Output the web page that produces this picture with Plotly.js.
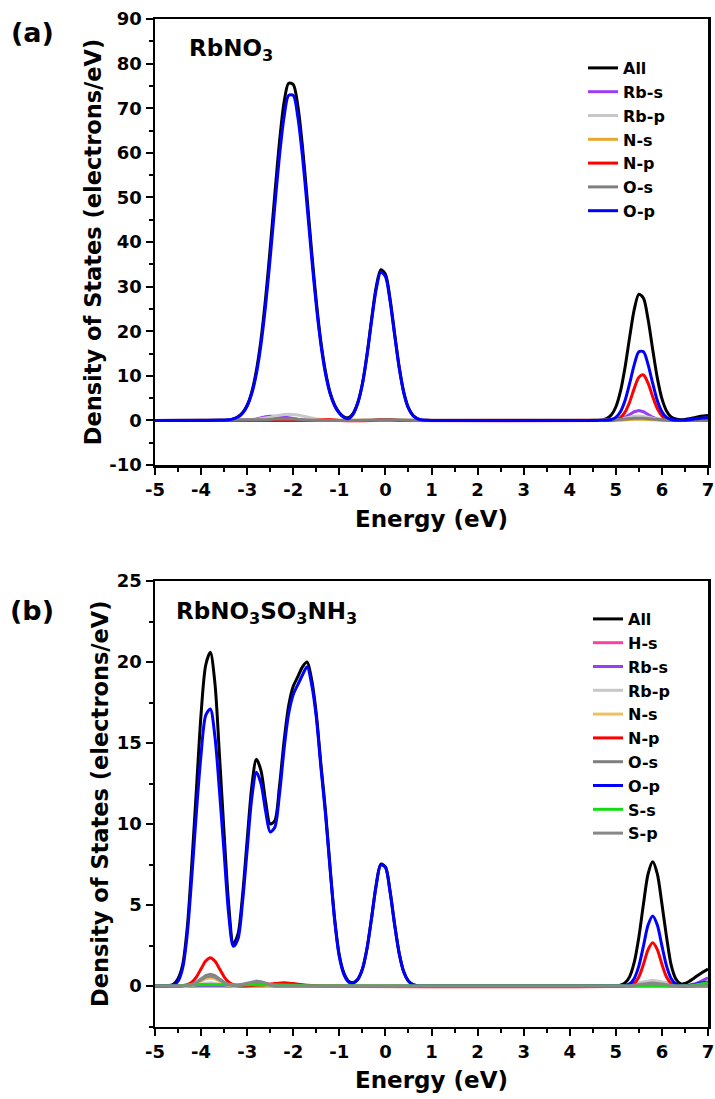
<!DOCTYPE html>
<html>
<head>
<meta charset="utf-8">
<script src="https://cdn.plot.ly/plotly-3.0.1.min.js"></script>
<style>html,body{margin:0;padding:0;background:#fff;}</style>
</head>
<body>
<div id="chart" style="width:715px;height:1099px;"></div>
<script>
// ---------- Panel (a): RbNO3 ----------
const energyA = [-5,-4,-3.6,-3.5,-3.4,-3.3,-3.2,-3.1,-3.0,-2.9,-2.8,-2.7,-2.6,-2.5,-2.4,-2.3,-2.2,-2.1,-2.0,-1.9,-1.8,-1.7,-1.6,-1.5,-1.4,-1.3,-1.2,-1.1,-1.0,-0.9,-0.8,-0.7,-0.6,-0.5,-0.4,-0.3,-0.2,-0.1,0.0,0.1,0.2,0.3,0.4,0.5,0.6,0.7,0.8,0.9,1.0,2,3,4,4.4,4.5,4.6,4.7,4.8,4.9,5.0,5.1,5.2,5.3,5.4,5.5,5.6,5.7,5.8,5.9,6.0,6.1,6.2,6.3,6.4,6.5,6.6,6.7,6.8,6.9,7.0];
const allA = [0,0,
  0.02,0.05,0.14,0.34,0.8,1.7,3.4,6.4,11.2,18.1,
  27.4,38.6,50.7,62.3,71.3,75.6,75.3,70.5,61.4,49.9,
  37.8,26.7,17.6,10.9,6.2,3.4,1.75,0.8,0.6,1.6,
  3.95,8.2,14.75,22.7,29.9,33.8,32.8,27.3,19.45,11.9,
  6.25,2.8,1.1,0.37,0.1,0.03,0,
  0,0,0,
  0,0.01,0.03,0.12,0.4,1.19,3.01,6.49,11.93,18.67,
  24.9,28.3,27.4,22.6,15.9,9.53,4.87,2.12,0.79,0.3,
  0.15,0.2,0.35,0.6,0.85,1.0,1.1];
const opA = [0,0,
  0.02,0.05,0.13,0.33,0.75,1.62,3.23,6.02,10.48,17.02,
  25.79,36.46,48.09,59.2,67.99,72.87,72.87,67.99,59.2,48.09,
  36.46,25.79,17.02,10.48,6.02,3.23,1.62,0.65,0.4,1.4,
  3.9,8.1,14.5,22.3,29.41,33.27,32.26,26.83,19.13,11.69,
  6.13,2.75,1.06,0.35,0.1,0.02,0,
  0,0,0,
  0,0,0,0.02,0.05,0.2,0.69,1.95,4.46,8.28,
  12.52,15.4,15.4,12.52,8.28,4.46,1.95,0.69,0.2,0.05,
  0.02,0.05,0.15,0.3,0.45,0.55,0.6];
const rbsA_E = [-5,-3.1,-3.0,-2.9,-2.8,-2.7,-2.6,-2.5,-2.4,-2.3,-2.2,-2.1,-2.0,-1.9,-1.8,-1.7,-1.6,4.8,4.9,5.0,5.1,5.2,5.3,5.4,5.5,5.6,5.7,5.8,5.9,6.0,6.1,6.2,6.5,6.6,6.7,6.8,6.9,7.0];
const rbsA   = [0,0,0.05,0.15,0.3,0.6,0.85,0.95,0.95,0.85,0.75,0.65,0.45,0.25,0.1,0.03,0,0,0.03,0.09,0.3,0.71,1.33,1.94,2.2,1.94,1.33,0.71,0.3,0.09,0.02,0,0,0.05,0.2,0.4,0.5,0.55];
const rbpA_E = [-5,-3.2,-3.1,-3.0,-2.9,-2.8,-2.7,-2.6,-2.5,-2.4,-2.3,-2.2,-2.1,-2.0,-1.9,-1.8,-1.7,-1.6,-1.5,-1.4,-1.3,-1.2,-1.1,-1.0,-0.5,0.0,0.5,1.0,4.8,4.9,5.0,5.1,5.2,5.3,5.4,5.5,5.6,5.7,5.8,5.9,6.0,6.1,6.2,6.3,7.0];
const rbpA   = [0,0,0.02,0.05,0.1,0.19,0.32,0.5,0.73,0.97,1.19,1.34,1.4,1.34,1.19,0.97,0.73,0.5,0.32,0.19,0.1,0.05,0.02,0.02,0.12,0.15,0.08,0,0.05,0.1,0.14,0.28,0.49,0.73,0.92,1.0,0.92,0.73,0.49,0.28,0.14,0.06,0.02,0,0];
const nsA_E = [-5,-1.8,-1.6,-1.4,-1.2,-0.3,-0.1,0.1,0.3,4.9,5.1,5.3,5.5,5.7,5.9,6.1,7];
const nsA   = [0,0,0.1,0.12,0,0,0.12,0.1,0,0,0.05,0.2,0.3,0.2,0.05,0,0];
const npA_E = [-5,-1.6,-1.4,-1.2,-1.0,-0.3,-0.1,0.1,0.3,4.8,4.9,5.0,5.1,5.2,5.3,5.4,5.5,5.6,5.7,5.8,5.9,6.0,6.1,6.2,6.3,6.5,6.6,6.7,6.8,6.9,7.0];
const npA   = [0,0,0.1,0.12,0,0,0.12,0.12,0,0,0.04,0.18,0.65,1.86,4.14,7.18,9.69,10.19,8.34,5.32,2.64,1.02,0.31,0.07,0,0,0.05,0.15,0.25,0.3,0.3];
const osA_E = [-5,-3.0,-2.8,-2.6,-2.4,-2.2,-2.0,-1.8,-1.6,-1.4,-0.6,-0.3,0,0.3,0.6,4.8,5.0,5.2,5.4,5.6,5.8,6.0,6.2,7];
const osA   = [0,0,0.05,0.15,0.3,0.38,0.3,0.15,0.05,0,0,0.1,0.15,0.1,0,0,0.08,0.3,0.5,0.5,0.3,0.08,0,0];

// ---------- Panel (b): RbNO3SO3NH3 ----------
const energyB = [-5,
  -4.8,-4.7,-4.6,-4.5,-4.4,-4.3,-4.2,-4.1,-4.0,-3.9,
  -3.8,-3.7,-3.6,-3.5,-3.4,-3.3,-3.2,-3.1,-3.0,-2.9,
  -2.8,-2.7,-2.6,-2.5,-2.4,-2.3,-2.2,-2.1,-2.0,-1.9,
  -1.8,-1.7,-1.6,-1.5,-1.4,-1.3,-1.2,-1.1,-1.0,-0.9,
  -0.8,-0.7,-0.6,-0.5,-0.4,-0.3,-0.2,-0.1,0.0,0.1,
  0.2,0.3,0.4,0.5,0.6,0.7,0.8,0.9,1.0,
  2,3,4,4.5,
  5.0,5.1,5.2,5.3,5.4,5.5,5.6,5.7,5.8,5.9,
  6.0,6.1,6.2,6.3,6.4,6.5,6.6,6.7,6.8,6.9,7.0];
const allB = [0,
  0,0.03,0.1,0.45,1.3,3.6,7.6,12.2,16.8,19.8,
  20.6,18.7,14.2,9.4,5.0,2.6,3.2,5.6,9.0,12.3,
  14.0,13.3,11.4,10.0,10.2,12.3,15.1,17.3,18.5,19.1,
  19.7,20.0,18.9,16.8,13.7,10.8,7.3,4.1,1.9,0.8,
  0.3,0.2,0.42,1.05,2.32,4.22,6.25,7.52,7.36,5.86,
  3.8,2.0,0.86,0.3,0.08,0.02,0,0,0,
  0,0,0,0,
  0,0.05,0.19,0.58,1.47,3.03,5.07,6.92,7.67,6.92,
  5.07,3.03,1.3,0.45,0.15,0.15,0.3,0.5,0.7,0.88,1.05];
const opB = [0,
  0,0.01,0.05,0.3,1.1,3.2,6.8,10.8,14.3,16.7,
  17.1,15.4,12.0,8.2,4.4,2.45,2.9,5.2,8.4,11.6,
  13.2,12.5,10.8,9.5,9.8,11.8,14.6,16.8,18.0,18.6,
  19.2,19.7,18.6,16.6,13.5,10.6,7.2,4.0,1.8,0.7,
  0.25,0.18,0.4,1.03,2.3,4.19,6.21,7.48,7.32,5.83,
  3.78,1.99,0.85,0.3,0.08,0.02,0,0,0,
  0,0,0,0,
  0,0,0.03,0.14,0.47,1.24,2.48,3.76,4.32,3.76,
  2.48,1.24,0.47,0.14,0.03,0,0.03,0.08,0.15,0.2,0.25];
const hsB_E = [-5,-4.2,-3.8,-3.4,7];
const hsB   = [0,0,0.08,0,0];
const rbsB_E = [-5,5.4,5.8,6.2,6.5,6.6,6.7,6.8,6.9,7.0];
const rbsB   = [0,0,0.1,0,0,0.05,0.12,0.22,0.35,0.5];
const rbpB_E = [-5,-4.3,-3.8,-3.3,-3.0,-2.8,-2.6,5.2,5.5,5.8,6.1,6.4,7];
const rbpB   = [0,0,0.2,0,0,0.1,0,0,0.2,0.35,0.2,0,0];
const nsB_E = [-5,-4.3,-4.2,-4.1,-4.0,-3.9,-3.8,-3.7,-3.6,-3.5,-3.4,-3.3,7];
const nsB   = [0,0,0.05,0.15,0.3,0.45,0.5,0.45,0.3,0.15,0.05,0,0];
const npB_E = [-5,-4.5,-4.4,-4.3,-4.2,-4.1,-4.0,-3.9,-3.8,-3.7,-3.6,-3.5,-3.4,-3.3,-3.2,-3.1,-2.8,-2.6,-2.4,-2.2,-2.0,-1.8,-1.6,-1.4,5.2,5.3,5.4,5.5,5.6,5.7,5.8,5.9,6.0,6.1,6.2,6.3,6.4,6.6,6.8,7.0];
const npB   = [0,0,0.02,0.08,0.24,0.57,1.06,1.54,1.75,1.54,1.06,0.57,0.24,0.08,0.02,0,0.05,0.08,0.15,0.2,0.15,0.08,0.03,0,0,0.04,0.17,0.56,1.34,2.25,2.67,2.25,1.34,0.56,0.17,0.04,0,0,0.05,0.1];
const osB_E = [-5,-4.4,-4.3,-4.2,-4.1,-4.0,-3.9,-3.8,-3.7,-3.6,-3.5,-3.4,-3.3,-3.2,-3.0,-2.8,-2.6,-2.4,5.4,5.8,6.2,7];
const osB   = [0,0,0.03,0.1,0.23,0.44,0.64,0.72,0.64,0.44,0.23,0.1,0.03,0,0.1,0.2,0.1,0,0,0.12,0,0];
const ssB_E = [-5,-4.5,-4.3,-4.0,-3.5,-3.0,-2.5,-2.0,-1.6,6.6,6.8,7.0];
const ssB   = [0,0,0.06,0.1,0.08,0.1,0.08,0.05,0,0,0.1,0.2];
const spB_E = [-5,-4.4,-4.3,-4.2,-4.1,-4.0,-3.9,-3.8,-3.7,-3.6,-3.5,-3.4,-3.3,-3.2,-3.1,-3.0,-2.9,-2.8,-2.7,-2.6,-2.5,-2.4,5.3,5.6,5.8,6.0,6.3,7];
const spB   = [0,0,0.03,0.08,0.2,0.38,0.55,0.62,0.55,0.38,0.2,0.08,0.03,0.05,0.12,0.2,0.27,0.3,0.27,0.2,0.1,0,0,0.12,0.18,0.12,0,0];

// ---------- tick labels ----------
const xTickVals = [-5,-4,-3,-2,-1,0,1,2,3,4,5,6,7];
const xTickText = ['-5','-4','-3','-2','-1','0','1','2','3','4','5','6','7'];
const yTickValsA = [-10,0,10,20,30,40,50,60,70,80,90];
const yTickTextA = ['-10','0','10','20','30','40','50','60','70','80','90'];
const yTickValsB = [0,5,10,15,20,25];
const yTickTextB = ['0','5','10','15','20','25'];

const FONT = 'DejaVu Sans, Liberation Sans, Arial, sans-serif';
const W = 715, H = 1099;

function tr(x, y, name, color, xa, ya, leg, smooth) {
  return {x: x, y: y, name: name, type: 'scatter', mode: 'lines',
    line: smooth ? {color: color, width: 3, shape: 'spline', smoothing: 0.8}
                 : {color: color, width: 3, shape: 'linear'},
    xaxis: xa, yaxis: ya, legend: leg, hoverinfo: 'skip'};
}

const data = [
  tr(energyA, allA, 'All', '#000000', 'x', 'y', 'legend', true),
  tr(rbsA_E, rbsA, 'Rb-s', '#9B3DF5', 'x', 'y', 'legend', false),
  tr(rbpA_E, rbpA, 'Rb-p', '#C8C8C8', 'x', 'y', 'legend', false),
  tr(nsA_E, nsA, 'N-s', '#E8A830', 'x', 'y', 'legend', false),
  tr(npA_E, npA, 'N-p', '#FF0000', 'x', 'y', 'legend', true),
  tr(osA_E, osA, 'O-s', '#7F7F7F', 'x', 'y', 'legend', false),
  tr(energyA, opA, 'O-p', '#0000FF', 'x', 'y', 'legend', true),

  tr(energyB, allB, 'All', '#000000', 'x2', 'y2', 'legend2', true),
  tr(hsB_E, hsB, 'H-s', '#FF3FA0', 'x2', 'y2', 'legend2', false),
  tr(rbsB_E, rbsB, 'Rb-s', '#9B3DF5', 'x2', 'y2', 'legend2', false),
  tr(rbpB_E, rbpB, 'Rb-p', '#C8C8C8', 'x2', 'y2', 'legend2', false),
  tr(nsB_E, nsB, 'N-s', '#F0C060', 'x2', 'y2', 'legend2', false),
  tr(npB_E, npB, 'N-p', '#FF0000', 'x2', 'y2', 'legend2', true),
  tr(osB_E, osB, 'O-s', '#7F7F7F', 'x2', 'y2', 'legend2', false),
  tr(energyB, opB, 'O-p', '#0000FF', 'x2', 'y2', 'legend2', true),
  tr(ssB_E, ssB, 'S-s', '#11DD11', 'x2', 'y2', 'legend2', false),
  tr(spB_E, spB, 'S-p', '#888888', 'x2', 'y2', 'legend2', false)
];

function xAxis(anchor) {
  return {
    domain: [155 / W, 708 / W], anchor: anchor, range: [-5, 7],
    tickmode: 'array', tickvals: xTickVals, ticktext: xTickText,
    showline: true, linewidth: 2.5, linecolor: '#000', mirror: true,
    ticks: 'outside', ticklen: 7, tickwidth: 2, tickcolor: '#000',
    minor: {tickmode: 'linear', tick0: -5, dtick: 0.5, ticks: 'outside', ticklen: 4, tickwidth: 2, tickcolor: '#000', showgrid: false},
    showgrid: false, zeroline: false, automargin: false, fixedrange: true,
    tickfont: {family: FONT, size: 18, weight: 'bold', color: '#000'},
    title: {text: 'Energy (eV)', font: {family: FONT, size: 23, weight: 'bold', color: '#000'}, standoff: 12}
  };
}
function yAxis(top, bottom, anchor, range, vals, text, minorD) {
  return {
    domain: [1 - bottom / H, 1 - top / H], anchor: anchor, range: range,
    tickmode: 'array', tickvals: vals, ticktext: text,
    showline: true, linewidth: 2.5, linecolor: '#000', mirror: true,
    ticks: 'outside', ticklen: 7, tickwidth: 2, tickcolor: '#000',
    minor: {tickmode: 'linear', tick0: 0, dtick: minorD, ticks: 'outside', ticklen: 4, tickwidth: 2, tickcolor: '#000', showgrid: false},
    showgrid: false, zeroline: false, automargin: false, fixedrange: true,
    tickfont: {family: FONT, size: 18, weight: 'bold', color: '#000'},
    title: {text: 'Density of States (electrons/eV)', font: {family: FONT, size: 22.5, weight: 'bold', color: '#000'}, standoff: 2}
  };
}

const legFont = {family: FONT, size: 16, weight: 'bold', color: '#000'};

const layout = {
  width: W, height: H,
  margin: {l: 0, r: 0, t: 0, b: 0},
  paper_bgcolor: '#fff', plot_bgcolor: '#fff',
  font: {family: FONT, color: '#000'},
  showlegend: true,
  xaxis: xAxis('y'),
  yaxis: yAxis(19, 465, 'x', [-10, 90], yTickValsA, yTickTextA, 5),
  xaxis2: xAxis('y2'),
  yaxis2: yAxis(581, 1026.5, 'x2', [-2.5, 25], yTickValsB, yTickTextB, 2.5),
  legend: {x: 583 / W, y: 1 - 51 / H, xanchor: 'left', yanchor: 'top',
    bgcolor: 'rgba(0,0,0,0)', borderwidth: 0, font: legFont, tracegroupgap: 0},
  legend2: {x: 588 / W, y: 1 - 602 / H, xanchor: 'left', yanchor: 'top',
    bgcolor: 'rgba(0,0,0,0)', borderwidth: 0, font: legFont, tracegroupgap: 0},
  annotations: [
    {text: '(a)', x: 32 / W, y: 1 - 33 / H, xref: 'paper', yref: 'paper', xanchor: 'center', yanchor: 'middle', showarrow: false,
      font: {family: FONT, size: 27, weight: 'bold', color: '#000'}},
    {text: 'RbNO<sub>3</sub>', x: 187 / W, y: 1 - 50 / H, xref: 'paper', yref: 'paper', xanchor: 'left', yanchor: 'middle', showarrow: false,
      font: {family: FONT, size: 23, weight: 'bold', color: '#000'}},
    {text: '(b)', x: 32 / W, y: 1 - 610 / H, xref: 'paper', yref: 'paper', xanchor: 'center', yanchor: 'middle', showarrow: false,
      font: {family: FONT, size: 27, weight: 'bold', color: '#000'}},
    {text: 'RbNO<sub>3</sub>SO<sub>3</sub>NH<sub>3</sub>', x: 174 / W, y: 1 - 613 / H, xref: 'paper', yref: 'paper', xanchor: 'left', yanchor: 'middle', showarrow: false,
      font: {family: FONT, size: 23, weight: 'bold', color: '#000'}}
  ]
};

Plotly.newPlot('chart', data, layout, {displayModeBar: false, staticPlot: true});
</script>
</body>
</html>
